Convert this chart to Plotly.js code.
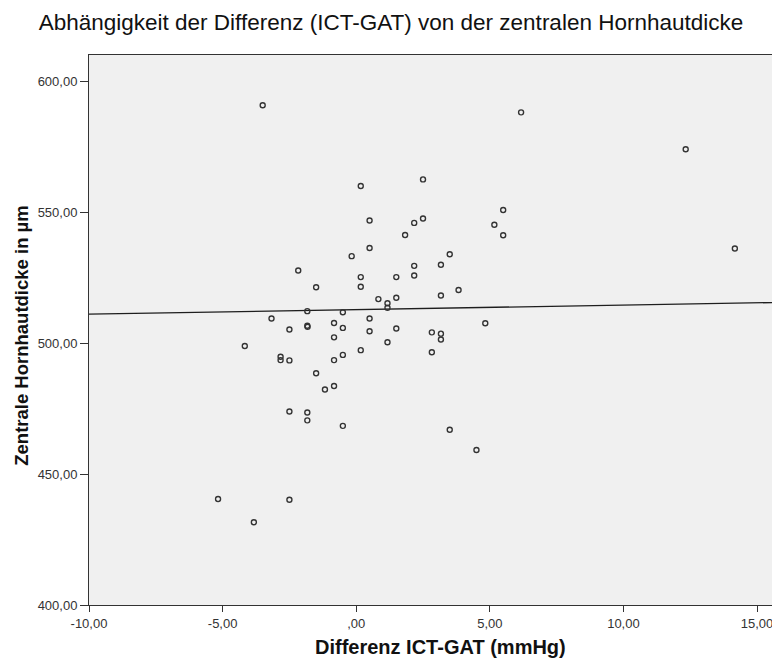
<!DOCTYPE html>
<html>
<head>
<meta charset="utf-8">
<script src="https://cdn.plot.ly/plotly-3.0.1.min.js"></script>
<style>
  html, body { margin: 0; padding: 0; background: #ffffff; overflow: hidden; }
  #chart { width: 772px; height: 664px; }
</style>
</head>
<body>
<div id="chart"></div>
<script>
// Differenz ICT-GAT (mmHg)
var diffICTGAT = [
  -3.50, -2.17, 0.17, 2.50, 0.50, 2.17, 2.50, 1.83, 3.50, 0.50,
  -0.17, 2.17, 3.17, 0.17, 1.50, 2.17, -1.50, 0.17, 3.83, 0.83,
  1.50, 3.17, 1.17, 1.17, -1.83, -0.50, -3.17, 0.50, -0.83, -2.50,
  -1.83, -1.82, -0.50, 0.50, 1.50, 2.83, 3.17, 3.17, -0.83, -4.17,
  1.17, 2.83, 0.17, -0.50, -2.83, -2.83, -2.50, -0.83, -1.50, -1.17,
  -0.83, -2.50, -1.83, -1.83, -0.50, 3.50, 4.50, 4.83, 6.17, 5.50,
  5.17, 5.50, 12.33, 14.17, -5.17, -2.50, -3.83
];
// Zentrale Hornhautdicke in µm
var hornhautdicke = [
  590.8, 527.7, 560.0, 562.5, 546.8, 545.9, 547.6, 541.3, 533.9, 536.3,
  533.2, 529.5, 529.9, 525.2, 525.2, 525.8, 521.3, 521.5, 520.3, 516.8,
  517.3, 518.2, 515.2, 513.5, 512.2, 511.8, 509.4, 509.4, 507.7, 505.2,
  506.6, 506.2, 505.8, 504.5, 505.6, 504.1, 503.6, 501.4, 502.2, 498.9,
  500.3, 496.5, 497.3, 495.5, 494.8, 493.5, 493.4, 493.5, 488.5, 482.3,
  483.6, 473.9, 473.5, 470.5, 468.4, 466.9, 459.2, 507.6, 588.1, 550.8,
  545.2, 541.2, 574.0, 536.1, 440.5, 440.2, 431.6
];
// Fit line (Anpassungslinie)
var fitIntercept = 512.79;
var fitSlope = 0.172;

var xTickVals = [-10, -5, 0, 5, 10, 15];
var xTickText = ["-10,00", "-5,00", ",00", "5,00", "10,00", "15,00"];
var yTickVals = [400, 450, 500, 550, 600];
var yTickText = ["400,00", "450,00", "500,00", "550,00", "600,00"];

var xRange = [-10, 15.56];
var yRange = [400, 610];

var fitX = [xRange[0], xRange[1]];
var fitY = fitX.map(function (v) { return fitIntercept + fitSlope * v; });

var traces = [
  {
    type: "scatter", mode: "lines",
    x: fitX, y: fitY,
    line: { color: "#1e1e1e", width: 1.3 },
    hoverinfo: "skip", showlegend: false
  },
  {
    type: "scatter", mode: "markers",
    x: diffICTGAT, y: hornhautdicke,
    marker: { symbol: "circle-open", size: 5, color: "#333333", line: { width: 1.4, color: "#333333" } },
    showlegend: false
  }
];

var tickFont = { family: "Liberation Sans, Arial, sans-serif", size: 13, color: "#333333" };

var layout = {
  width: 772, height: 664,
  margin: { l: 89, r: 0, t: 55, b: 59, pad: 0 },
  paper_bgcolor: "#ffffff",
  plot_bgcolor: "#f0f0f0",
  showlegend: false,
  title: {
    text: "Abhängigkeit der Differenz (ICT-GAT) von der zentralen Hornhautdicke",
    font: { family: "Liberation Sans, Arial, sans-serif", size: 22.5, color: "#111111" },
    x: 391 / 772, xref: "container", xanchor: "center",
    y: 0.966, yref: "container", yanchor: "middle"
  },
  xaxis: {
    range: xRange, autorange: false,
    tickvals: xTickVals, ticktext: xTickText,
    ticks: "outside", ticklen: 6, tickwidth: 1, tickcolor: "#333333",
    ticklabeloverflow: "allow",
    showgrid: false, zeroline: false,
    showline: true, linecolor: "#333333", linewidth: 1, mirror: true,
    tickfont: tickFont
  },
  yaxis: {
    range: yRange, autorange: false,
    tickvals: yTickVals, ticktext: yTickText,
    ticks: "outside", ticklen: 8, tickwidth: 1, tickcolor: "#333333",
    ticklabeloverflow: "allow",
    showgrid: false, zeroline: false,
    showline: true, linecolor: "#333333", linewidth: 1,
    tickfont: tickFont
  },
  annotations: [
    {
      text: "<b>Differenz ICT-GAT (mmHg)</b>",
      xref: "paper", yref: "paper",
      x: 0.514, y: -0.076, xanchor: "center", yanchor: "middle",
      showarrow: false,
      font: { family: "Liberation Sans, Arial, sans-serif", size: 20, color: "#111111" }
    },
    {
      text: "<b>Zentrale Hornhautdicke in µm</b>",
      xref: "paper", yref: "paper",
      x: -0.1, y: 0.489, xanchor: "center", yanchor: "middle",
      textangle: -90,
      showarrow: false,
      font: { family: "Liberation Sans, Arial, sans-serif", size: 18.5, color: "#111111" }
    }
  ]
};

Plotly.newPlot("chart", traces, layout, { displayModeBar: false, staticPlot: true });
</script>
</body>
</html>
